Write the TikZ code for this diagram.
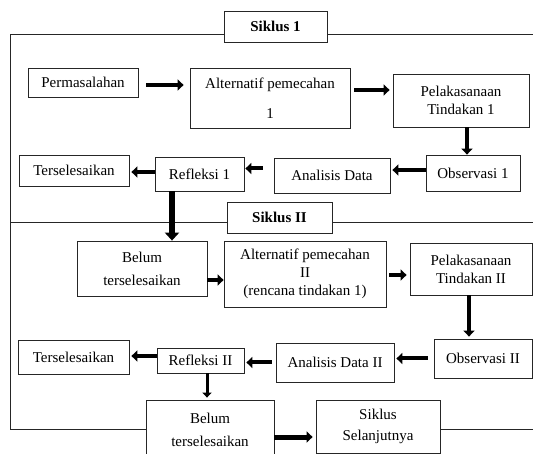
\documentclass[tikz,border=0pt]{standalone}
\usepackage{fontspec}
\setmainfont{Liberation Serif}
\usetikzlibrary{arrows.meta,calc}
\begin{document}
\begin{tikzpicture}[x=1pt,y=-1pt,
  box/.style={draw=black!85,line width=0.8pt,fill=white,inner sep=0pt,align=center,
    font=\fontsize{15}{18}\selectfont},
  sbox/.style={box,font=\fontsize{15}{18}\selectfont\bfseries},
  frame/.style={draw=black!85,line width=0.8pt},
  arr/.style={line width=4pt,-{Triangle[length=6pt,width=11pt]}},
  arrbig/.style={line width=5.5pt,-{Triangle[length=8pt,width=14pt]}},
  arrsmall/.style={line width=3pt,-{Triangle[length=5pt,width=9pt]}}]
\useasboundingbox (0,0) rectangle (533,454);
\clip (0,0) rectangle (533,454);
\fill[white] (0,0) rectangle (533,454);
% frame lines
\coordinate (ftl) at (10,34);
\coordinate (ftr) at (540,34);
\coordinate (fml) at (10,222);
\coordinate (fmr) at (540,222);
\coordinate (fbl) at (10,429);
\coordinate (fbr) at (540,429);
\draw[frame] (ftr) -- (ftl) -- (fbl);
\draw[frame] (fml) -- (fmr);
% boxes
\node[sbox,minimum width=103,minimum height=31] (s1) at (275.5,26.5) {Siklus 1};
\node[box,minimum width=110,minimum height=29] (perm) at (83,82.5) {Permasalahan};
\node[box,minimum width=160,minimum height=60] (alt1) at (270,98) {Alternatif pemecahan\\[12pt]1};
\node[box,minimum width=136,minimum height=53] (pel1) at (461,100.5) {Pelakasanaan\\Tindakan 1};
\node[box,minimum width=94,minimum height=36] (obs1) at (473,173) {Observasi 1};
\node[box,minimum width=116,minimum height=35] (ana1) at (332,175.5) {Analisis Data};
\node[box,minimum width=89,minimum height=34] (ref1) at (199.5,174) {Refleksi 1};
\node[box,minimum width=110,minimum height=31] (ter1) at (74,170.5) {Terselesaikan};
\node[sbox,minimum width=105,minimum height=31] (s2) at (279.5,217.5) {Siklus II};
\node[box,minimum width=130,minimum height=55] (bel1) at (142,268.5) {Belum\\[5pt]terselesaikan};
\node[box,minimum width=162,minimum height=66] (alt2) at (305,274) {Alternatif pemecahan\\II\\(rencana tindakan 1)};
\node[box,minimum width=122,minimum height=52] (pel2) at (471,269) {Pelakasanaan\\Tindakan II};
\node[box,minimum width=98,minimum height=39] (obs2) at (483,358.5) {Observasi II};
\node[box,minimum width=118,minimum height=39] (ana2) at (335,362.5) {Analisis Data II};
\node[box,minimum width=87,minimum height=25] (ref2) at (200.5,360.5) {Refleksi II};
\node[box,minimum width=111,minimum height=34] (ter2) at (73.5,357) {Terselesaikan};
\node[box,minimum width=128,minimum height=60] (bel2) at (210,430) {Belum\\[5pt]terselesaikan};
\node[box,minimum width=124,minimum height=53] (sik) at (378,426.5) {Siklus\\[3pt]Selanjutnya};
% bottom frame pieces
\draw[frame] (fbl) -- (fbl -| bel2.west);
\draw[frame] (fbr -| sik.east) -- (fbr);
% arrows
\draw[arr,shorten <=8pt,shorten >=6pt] ([yshift=-2.5pt]perm.east) -- ([yshift=-2.5pt]perm.east -| alt1.west);
\draw[arr,shorten <=4pt,shorten >=3pt] ([yshift=8pt]alt1.east) -- ([yshift=8pt]alt1.east -| pel1.west);
\draw[arr] ([xshift=6pt]pel1.south) -- ([xshift=6pt]pel1.south |- obs1.north);
\draw[arr,shorten >=2pt] ([yshift=3pt]obs1.west) -- ([yshift=3pt]obs1.west -| ana1.east);
\draw[arr,shorten <=11pt,shorten >=1pt] ([yshift=7pt]ana1.west) -- ([yshift=7pt]ana1.west -| ref1.east);
\draw[arr,shorten >=2pt] ([yshift=2pt]ref1.west) -- ([yshift=2pt]ref1.west -| ter1.east);
\draw[arrbig] ([xshift=-27.5pt]ref1.south) -- ([xshift=-27.5pt]ref1.south |- bel1.north);
\draw[arr] ([yshift=-11.5pt]bel1.east) -- ([yshift=-11.5pt]bel1.east -| alt2.west);
\draw[arr,shorten <=3pt,shorten >=3pt] ([yshift=-1pt]alt2.east) -- ([yshift=-1pt]alt2.east -| pel2.west);
\draw[arr,shorten >=2pt] ([xshift=-2pt]pel2.south) -- ([xshift=-2pt]pel2.south |- obs2.north);
\draw[arr,shorten <=6pt,shorten >=2pt] (obs2.west) -- (obs2.west -| ana2.east);
\draw[arr,shorten <=4pt,shorten >=2pt] (ana2.west) -- (ana2.west -| ref2.east);
\draw[arr,shorten >=2pt] ([yshift=4.5pt]ref2.west) -- ([yshift=4.5pt]ref2.west -| ter2.east);
\draw[arrsmall,shorten >=2pt] ([xshift=6.5pt]ref2.south) -- ([xshift=6.5pt]ref2.south |- bel2.north);
\draw[arr,line width=5pt,shorten >=3pt] ([yshift=-7pt]bel2.east) -- ([yshift=-7pt]bel2.east -| sik.west);
\end{tikzpicture}
\end{document}
